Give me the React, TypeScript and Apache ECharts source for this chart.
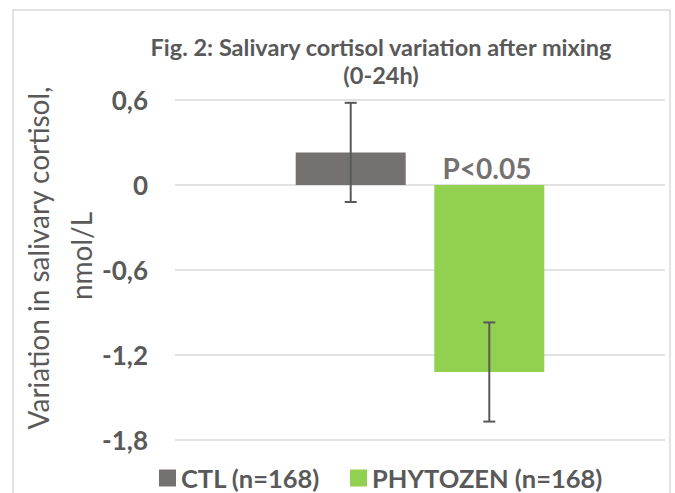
import React, { useEffect, useRef } from "react";
import * as echarts from "echarts";

const categories = ["0-24h"];
const seriesNames = ["CTL (n=168)", "PHYTOZEN (n=168)"];
const means = [0.23, -1.32];
const errors = [0.35, 0.35];
const barColors = ["#767171", "#92D050"];
const yTicks = { min: -1.8, max: 0.6, interval: 0.6 };
const titleLines = ["Fig. 2: Salivary cortisol variation after mixing", "(0-24h)"];
const yTitleLines = ["Variation in salivary cortisol,", "nmol/L"];
const pLabel = "P<0.05";

const FONT = "Lato";
const TEXT = "#595959";
const BAR_WIDTH = 110;
const BAR_GAP = 0.26;

export default function App() {
  const ref = useRef<HTMLDivElement>(null);
  useEffect(() => {
    if (!ref.current) return;
    const chart = echarts.init(ref.current, null, { renderer: "svg" });
    const offset = (BAR_WIDTH * (1 + BAR_GAP)) / 2;
    const barSeries = seriesNames.map((name, i) => ({
      name,
      type: "bar",
      data: [means[i]],
      barWidth: BAR_WIDTH,
      barGap: `${BAR_GAP * 100}%`,
      itemStyle: { color: barColors[i] },
      z: 2,
    }));
    const errData = means.map((m, i) => [0, m - errors[i], m + errors[i], i]);
    const option: any = {
      animation: false,
      textStyle: { fontFamily: FONT },
      grid: { left: 175, right: 10, top: 100, bottom: 53 },
      legend: {
        data: seriesNames,
        left: 154,
        top: 460,
        icon: "rect",
        itemWidth: 17,
        itemHeight: 17,
        itemGap: 30,
        textStyle: { fontFamily: FONT, fontWeight: "bold", fontSize: 25.5, color: TEXT },
      },
      xAxis: {
        type: "category",
        data: categories,
        axisLine: { show: false },
        axisTick: { show: false },
        axisLabel: { show: false },
      },
      yAxis: {
        type: "value",
        min: yTicks.min,
        max: yTicks.max,
        interval: yTicks.interval,
        axisLine: { show: false },
        axisTick: { show: false },
        splitLine: { lineStyle: { color: "#D9D9D9", width: 1.5 } },
        axisLabel: {
          margin: 27,
          fontFamily: FONT,
          fontWeight: "bold",
          fontSize: 26,
          color: TEXT,
          formatter: (v: number) => {
            const r = Math.round(v * 10) / 10;
            return r === 0 ? "0" : r.toFixed(1).replace(".", ",");
          },
        },
      },
      series: [
        ...barSeries,
        {
          type: "custom",
          data: errData,
          z: 5,
          renderItem: (params: any, api: any) => {
            const idx = api.value(3);
            const dx = idx === 0 ? -offset : offset;
            const lo = api.coord([api.value(0), api.value(1)]);
            const hi = api.coord([api.value(0), api.value(2)]);
            const x = lo[0] + dx;
            const style = { stroke: TEXT, lineWidth: 2 };
            return {
              type: "group",
              children: [
                { type: "line", shape: { x1: x, y1: lo[1], x2: x, y2: hi[1] }, style },
                { type: "line", shape: { x1: x - 6, y1: lo[1], x2: x + 6, y2: lo[1] }, style },
                { type: "line", shape: { x1: x - 6, y1: hi[1], x2: x + 6, y2: hi[1] }, style },
              ],
            };
          },
        },
      ],
      graphic: [
        {
          type: "rect",
          shape: { x: 13, y: 10, width: 657, height: 520 },
          style: { fill: "none", stroke: "#D9D9D9", lineWidth: 1.5 },
          silent: true,
        },
        {
          type: "text",
          x: 381,
          y: 47,
          style: {
            text: titleLines[0],
            fontFamily: FONT,
            fontWeight: "bold",
            fontSize: 23.5,
            fill: TEXT,
            textAlign: "center",
            textVerticalAlign: "middle",
          },
        },
        {
          type: "text",
          x: 381,
          y: 75,
          style: {
            text: titleLines[1],
            fontFamily: FONT,
            fontWeight: "bold",
            fontSize: 23.5,
            fill: TEXT,
            textAlign: "center",
            textVerticalAlign: "middle",
          },
        },
        {
          type: "text",
          x: 38,
          y: 258,
          rotation: Math.PI / 2,
          style: {
            text: yTitleLines[0],
            fontFamily: FONT,
            fontSize: 28,
            fill: TEXT,
            textAlign: "center",
            textVerticalAlign: "middle",
          },
        },
        {
          type: "text",
          x: 81,
          y: 256,
          rotation: Math.PI / 2,
          style: {
            text: yTitleLines[1],
            fontFamily: FONT,
            fontSize: 28,
            fill: TEXT,
            textAlign: "center",
            textVerticalAlign: "middle",
          },
        },
        {
          type: "text",
          x: 487,
          y: 168,
          style: {
            text: pLabel,
            fontFamily: FONT,
            fontWeight: "bold",
            fontSize: 28,
            fill: "#767171",
            textAlign: "center",
            textVerticalAlign: "middle",
          },
        },
      ],
    };
    chart.setOption(option);
    return () => chart.dispose();
  }, []);
  return (
    <div
      ref={ref}
      style={{ position: "fixed", left: 0, top: 0, width: 675, height: 493, background: "#fff" }}
    />
  );
}
